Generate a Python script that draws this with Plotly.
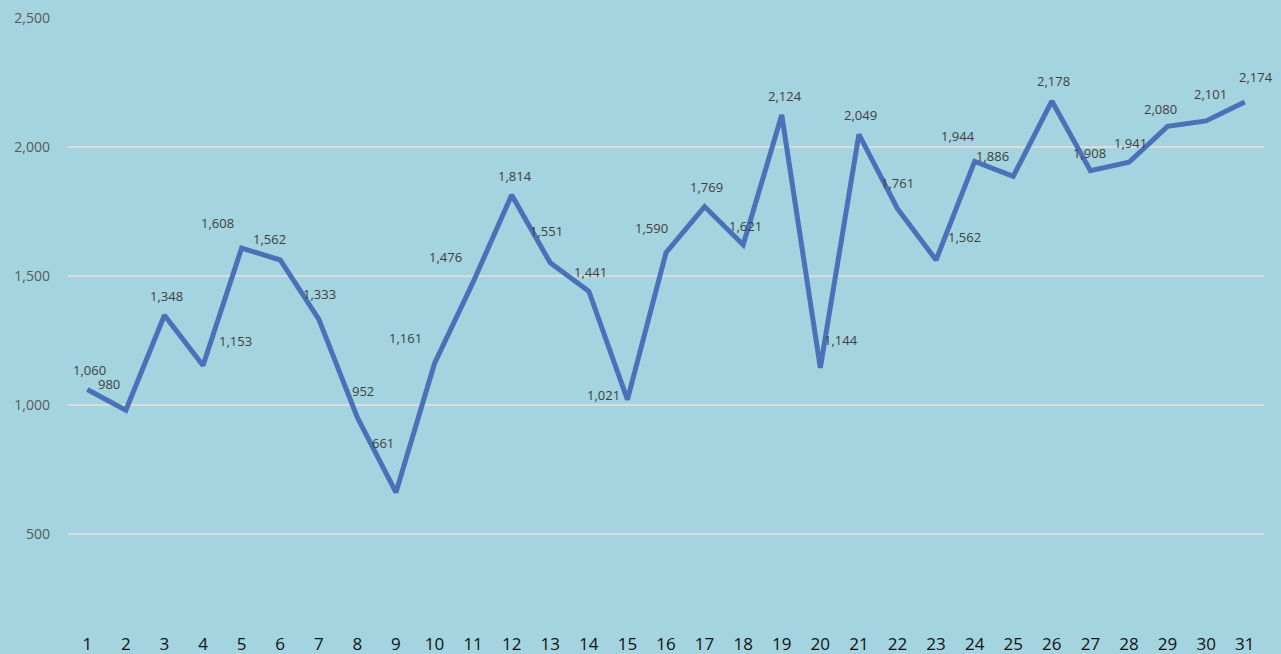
import plotly.graph_objects as go

days = list(range(1, 32))
values = [1060, 980, 1348, 1153, 1608, 1562, 1333, 952, 661, 1161,
          1476, 1814, 1551, 1441, 1021, 1590, 1769, 1621, 2124, 1144,
          2049, 1761, 1562, 1944, 1886, 2178, 1908, 1941, 2080, 2101, 2174]

# label nudges in pixels (dx right, dy up)
label_dx = [2, -17, 2, 32, -24, -11, 1, 6, -13, -29,
            -28, 3, -4, 2, -24, -15, 2, 2, 3, 21,
            2, 0, 28, -17, -21, 2, -1, 2, -7, 4, 11]
label_dy = [20, 26, 19, 25, 25, 21, 25, 26, 49, 25,
            25, 19, 32, 19, 5, 25, 20, 19, 19, 28,
            19, 26, 23, 25, 20, 20, 18, 19, 17, 27, 25]

fig = go.Figure()
fig.add_trace(go.Scatter(x=days, y=values, mode='lines',
                         line=dict(color='#4a72b8', width=5),
                         hoverinfo='x+y'))

for d, v, dx, dy in zip(days, values, label_dx, label_dy):
  fig.add_annotation(x=d, y=v, text='{:,}'.format(v), showarrow=False,
                     xshift=dx, yshift=dy,
                     font=dict(size=13, color='#404040'))

fig.update_layout(
    width=1281, height=654,
    paper_bgcolor='#a4d4df', plot_bgcolor='#a4d4df',
    font=dict(family='Open Sans, sans-serif'),
    margin=dict(l=68, r=17, t=18, b=22),
    showlegend=False)
fig.update_xaxes(range=[0.5, 31.5], tickvals=days, showgrid=False, zeroline=False,
                 showline=False, tickfont=dict(size=17, color='#111111'), ticks='',
                 automargin=False)
fig.update_yaxes(range=[120, 2500], tickvals=[500, 1000, 1500, 2000, 2500],
                 tickformat=',', gridcolor='#dcdcdc', gridwidth=2, zeroline=False,
                 tickfont=dict(size=14, color='#595959'), ticklabelstandoff=17,
                 automargin=False)

fig.write_html("out.html", config={'displayModeBar': False},
               post_script="document.body.style.margin='0';")
